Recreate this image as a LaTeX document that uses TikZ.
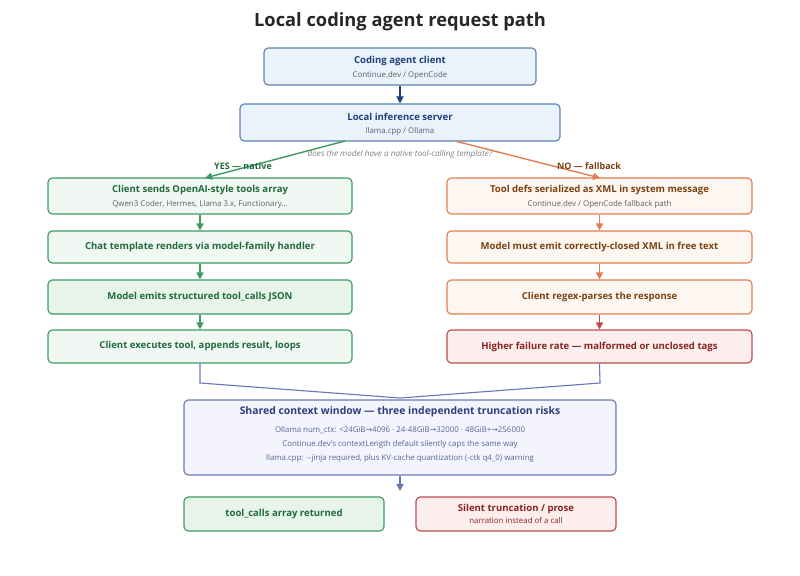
\documentclass[tikz,border=0pt]{standalone}
\usepackage{fontspec}
\setmainfont{Open Sans}
\newfontfamily\symfont{DejaVu Sans}
\newcommand{\ra}{{\symfont →}}
\usetikzlibrary{arrows.meta}
\definecolor{bluS}{HTML}{5A80B4}\definecolor{bluF}{HTML}{EAF3FC}\definecolor{bluT}{HTML}{1F3F7A}
\definecolor{grnS}{HTML}{3C9A62}\definecolor{grnF}{HTML}{F1F8F3}\definecolor{grnT}{HTML}{1F6B3A}
\definecolor{grnF2}{HTML}{E6F4EA}
\definecolor{orgS}{HTML}{E07E52}\definecolor{orgF}{HTML}{FEF6F0}\definecolor{orgT}{HTML}{7A4210}
\definecolor{redS}{HTML}{BE4A4A}\definecolor{redF}{HTML}{FDEEEE}\definecolor{redT}{HTML}{8A2222}
\definecolor{shrS}{HTML}{6A78B8}\definecolor{shrF}{HTML}{F4F5FC}\definecolor{shrT}{HTML}{2E3C80}
\definecolor{subT}{HTML}{5A6070}
\begin{document}
\begin{tikzpicture}[x=0.025cm,y=-0.025cm,
  box/.style={draw, line width=0.8pt, rounded corners=3pt, inner sep=0pt, align=center},
  ttl/.style={font=\fontsize{6.8}{8.5}\selectfont\bfseries},
  sub/.style={font=\fontsize{5.6}{9}\selectfont, text=subT},
  arr/.style={line width=1pt, -{Triangle[length=5pt,width=5pt]}}]
\useasboundingbox (0,0) rectangle (800,576);
\node[font=\fontsize{13}{15}\selectfont\bfseries, text=black!85] (title) at (400,22) {Local coding agent request path};
% top
\node[box, draw=bluS, fill=bluF, minimum width=272*0.025cm, minimum height=37*0.025cm] (client) at (400,66.5) {};
\node[ttl, text=bluT] at (400,61) {Coding agent client};
\node[sub] at (400,75) {Continue.dev / OpenCode};
\node[box, draw=bluS, fill=bluF, minimum width=320*0.025cm, minimum height=37*0.025cm] (server) at (400,122.5) {};
\node[ttl, text=bluT] at (400,117) {Local inference server};
\node[sub] at (400,131) {llama.cpp / Ollama};
\draw[arr, draw=bluT] (client) -- (server);
\node[font=\fontsize{5.8}{7}\selectfont\itshape, text=gray] (question) at (400,154) {does the model have a native tool-calling template?};
% left column
\node[box, draw=grnS, fill=grnF, minimum width=304*0.025cm, minimum height=36*0.025cm] (l1) at (200,196) {};
\node[ttl, text=grnT] at (200,190) {Client sends OpenAI-style tools array};
\node[sub] at (200,204) {Qwen3 Coder, Hermes, Llama 3.x, Functionary...};
\node[box, draw=grnS, fill=grnF, minimum width=304*0.025cm, minimum height=32*0.025cm, ttl, text=grnT] (l2) at (200,247) {Chat template renders via model-family handler};
\node[box, draw=grnS, fill=grnF2, minimum width=304*0.025cm, minimum height=34*0.025cm, ttl, text=grnT] (l3) at (200,297) {Model emits structured tool\_calls JSON};
\node[box, draw=grnS, fill=grnF, minimum width=304*0.025cm, minimum height=33*0.025cm, ttl, text=grnT] (l4) at (200,346.5) {Client executes tool, appends result, loops};
% right column
\node[box, draw=orgS, fill=orgF, minimum width=305*0.025cm, minimum height=36*0.025cm] (r1) at (599.5,196) {};
\node[ttl, text=orgT] at (599.5,190) {Tool defs serialized as XML in system message};
\node[sub] at (599.5,204) {Continue.dev / OpenCode fallback path};
\node[box, draw=orgS, fill=orgF, minimum width=305*0.025cm, minimum height=32*0.025cm, ttl, text=orgT] (r2) at (599.5,247) {Model must emit correctly-closed XML in free text};
\node[box, draw=orgS, fill=orgF, minimum width=305*0.025cm, minimum height=34*0.025cm, ttl, text=orgT] (r3) at (599.5,297) {Client regex-parses the response};
\node[box, draw=redS, fill=redF, minimum width=305*0.025cm, minimum height=33*0.025cm, ttl, text=redT] (r4) at (599.5,346.5) {Higher failure rate — malformed or unclosed tags};
% branches
\draw[arr, draw=grnS] (345,141) -- (205,178);
\draw[arr, draw=orgS] (455,141) -- (600,178);
\node[text=grnT, font=\fontsize{6.4}{7}\selectfont\bfseries] (yes) at (243,166) {YES — native};
\node[text=orgT, font=\fontsize{6.4}{7}\selectfont\bfseries] (no) at (589,166) {NO — fallback};
\foreach \a/\b/\c in {l1/l2/grnS,l2/l3/grnS,l3/l4/grnS,r1/r2/orgS,r2/r3/orgS}
  \draw[arr, draw=\c] (\a) -- (\b);
\draw[arr, draw=redS] (r3) -- (r4);
% shared context
\node[box, draw=shrS, fill=shrF, minimum width=432*0.025cm, minimum height=75*0.025cm] (shared) at (400,437.5) {};
\node[ttl, text=shrT, font=\fontsize{7.4}{9}\selectfont\bfseries] at (400,412) {Shared context window — three independent truncation risks};
\node[sub, text=shrT!80] at (400,430) {Ollama num\_ctx: <24GiB\ra4096 · 24-48GiB\ra32000 · 48GiB+\ra256000};
\node[sub, text=shrT!80] at (400,444) {Continue.dev's contextLength default silently caps the same way};
\node[sub, text=shrT!80] at (400,458) {llama.cpp: -{}-jinja required, plus KV-cache quantization (-ctk q4\_0) warning};
\coordinate (join) at (400,398);
\draw[line width=0.8pt, draw=shrS] (l4.south) -- (200,383) -- (join);
\draw[line width=0.8pt, draw=shrS] (r4.south) -- (600,383) -- (join);
\coordinate (down) at (400,491);
\draw[arr, draw=shrS] (shared.south) -- (down);
% outcomes
\node[box, draw=grnS, fill=grnF2, minimum width=200*0.025cm, minimum height=34*0.025cm, ttl, text=grnT] (ok) at (284,514) {tool\_calls array returned};
\node[box, draw=redS, fill=redF, minimum width=200*0.025cm, minimum height=34*0.025cm] (bad) at (516,514) {};
\node[ttl, text=redT] at (516,509) {Silent truncation / prose};
\node[sub, text=redT] at (516,521) {narration instead of a call};
\end{tikzpicture}
\end{document}
